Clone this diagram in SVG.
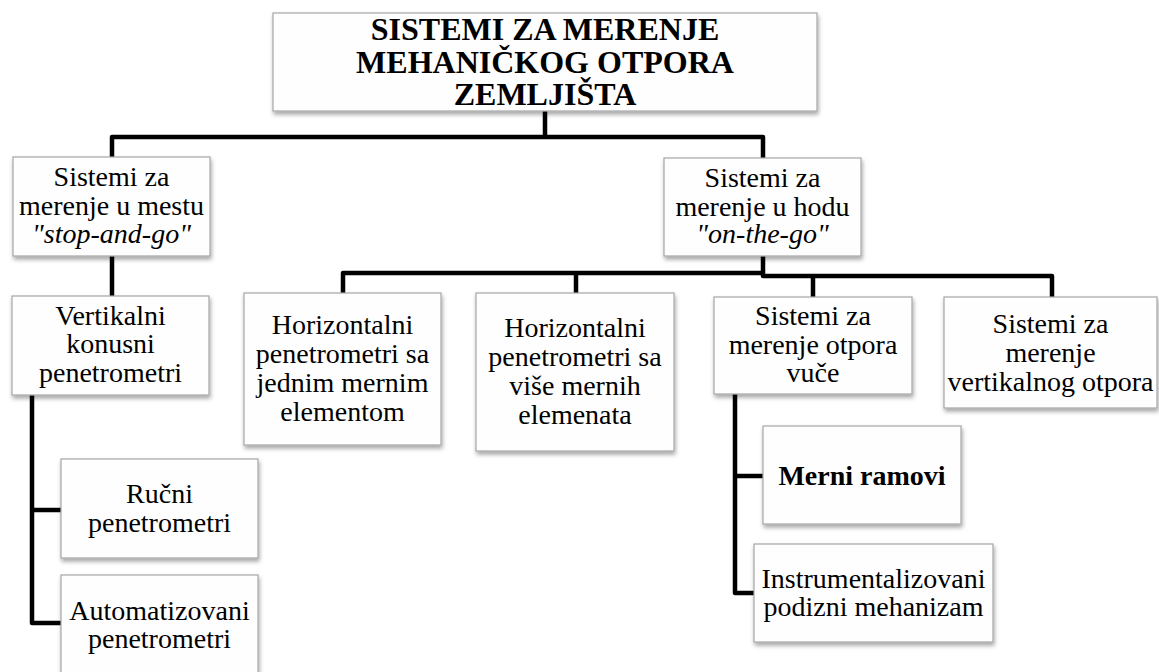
<svg xmlns="http://www.w3.org/2000/svg" width="1159" height="672" viewBox="0 0 1159 672">
<defs>
<filter id="sh" x="-10%" y="-10%" width="125%" height="130%">
<feDropShadow dx="1" dy="3" stdDeviation="2" flood-color="#000" flood-opacity="0.35"/>
</filter>
<style>
.box{fill:#fefefe;stroke:#a6a6a6;stroke-width:1.2;filter:url(#sh)}
.t{font-family:"Liberation Serif","Times New Roman",serif;font-size:28px;fill:#000;text-anchor:middle}
.tb{font-family:"Liberation Serif","Times New Roman",serif;font-size:32px;font-weight:bold;fill:#000;text-anchor:middle}
.b{font-weight:bold}
.i{font-style:italic}
.c{fill:none;stroke:#000;stroke-width:4.5;stroke-linejoin:round;stroke-linecap:butt}
</style>
</defs>
<rect width="1159" height="672" fill="#fff"/>
<g id="connectors">
<path class="c" d="M545 111 V137 M112 157 V137 H763 V158"/>
<path class="c" d="M112 256 V296"/>
<path class="c" d="M32 395 V623 H61 M32 510 H61"/>
<path class="c" d="M763 256 V276 H1052 V297 M813 276 V297"/>
<path class="c" d="M763 273 H343 V293 M576 273 V293"/>
<path class="c" d="M735 394 V593 H754 M735 476 H763"/>
</g>
<g id="n-root">
<rect class="box" x="273" y="13" width="544" height="98"/>
<text class="tb" x="545" y="40">SISTEMI ZA MERENJE</text>
<text class="tb" x="545" y="73">MEHANIČKOG OTPORA</text>
<text class="tb" x="545" y="105">ZEMLJIŠTA</text>
</g>
<g id="n-stop">
<rect class="box" x="13" y="157" width="197" height="99"/>
<text class="t" x="111.5" y="186">Sistemi za</text>
<text class="t" x="111.5" y="215">merenje u mestu</text>
<text class="t i" x="111.5" y="243">"stop-and-go"</text>
</g>
<g id="n-go">
<rect class="box" x="664" y="158" width="197" height="98"/>
<text class="t" x="762.5" y="187">Sistemi za</text>
<text class="t" x="762.5" y="216">merenje u hodu</text>
<text class="t i" x="762.5" y="243">"on-the-go"</text>
</g>
<g id="n-vert">
<rect class="box" x="12" y="296" width="197" height="99"/>
<text class="t" x="110.5" y="325">Vertikalni</text>
<text class="t" x="110.5" y="353">konusni</text>
<text class="t" x="110.5" y="382">penetrometri</text>
</g>
<g id="n-hor1">
<rect class="box" x="244" y="293" width="197" height="152"/>
<text class="t" x="342.5" y="334">Horizontalni</text>
<text class="t" x="342.5" y="363">penetrometri sa</text>
<text class="t" x="342.5" y="392">jednim mernim</text>
<text class="t" x="342.5" y="421">elementom</text>
</g>
<g id="n-hor2">
<rect class="box" x="476" y="293" width="198" height="158"/>
<text class="t" x="575" y="337">Horizontalni</text>
<text class="t" x="575" y="366">penetrometri sa</text>
<text class="t" x="575" y="395">više mernih</text>
<text class="t" x="575" y="424">elemenata</text>
</g>
<g id="n-vuce">
<rect class="box" x="714" y="297" width="198" height="97"/>
<text class="t" x="813" y="325">Sistemi za</text>
<text class="t" x="813" y="354">merenje otpora</text>
<text class="t" x="813" y="382">vuče</text>
</g>
<g id="n-vertotpor">
<rect class="box" x="944" y="297" width="213" height="111"/>
<text class="t" x="1050.5" y="333">Sistemi za</text>
<text class="t" x="1050.5" y="362">merenje</text>
<text class="t" x="1050.5" y="391">vertikalnog otpora</text>
</g>
<g id="n-rucni">
<rect class="box" x="61" y="459" width="197" height="99"/>
<text class="t" x="159.5" y="503">Ručni</text>
<text class="t" x="159.5" y="532">penetrometri</text>
</g>
<g id="n-auto">
<rect class="box" x="61" y="575" width="197" height="105"/>
<text class="t" x="159.5" y="620">Automatizovani</text>
<text class="t" x="159.5" y="648">penetrometri</text>
</g>
<g id="n-ramovi">
<rect class="box" x="763" y="426" width="198" height="98"/>
<text class="t b" x="862" y="485">Merni ramovi</text>
</g>
<g id="n-instr">
<rect class="box" x="754" y="544" width="239" height="98"/>
<text class="t" x="873.5" y="588">Instrumentalizovani</text>
<text class="t" x="873.5" y="616">podizni mehanizam</text>
</g>
</svg>
